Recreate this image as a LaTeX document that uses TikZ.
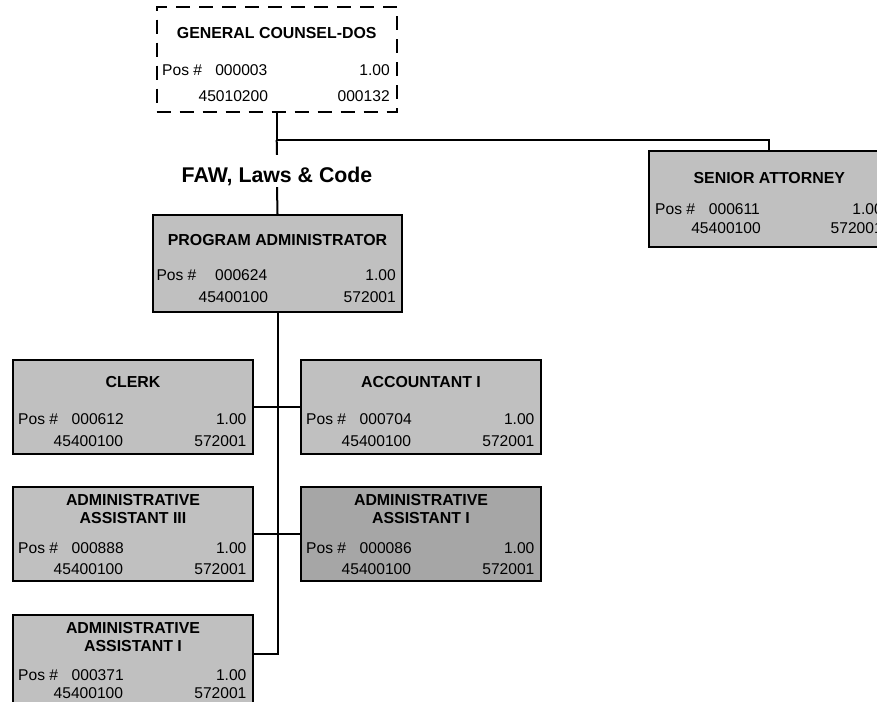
\documentclass[tikz,border=0pt]{standalone}
\usepackage{fontspec}
\setmainfont{Liberation Sans}
\usetikzlibrary{calc}
\definecolor{boxgray}{HTML}{C0C0C0}
\definecolor{boxdark}{HTML}{A6A6A6}
\tikzset{
  orgbox/.style={draw=black, line width=2pt, fill=boxgray, rectangle, inner sep=0pt,
    minimum width=240pt, minimum height=94pt},
  ttl/.style={inner sep=0pt, font=\fontsize{15.9}{18}\selectfont\bfseries},
  txt/.style={inner sep=0pt, font=\fontsize{15.6}{18}\selectfont},
  conn/.style={draw=black, line width=2pt},
}
% #1 box, #2 baseline offset, #3 pos number, #4 fte, #5 dx "Pos #", #6 dx number, #7 dx right
\newcommand\posrow[7]{%
  \node[txt,anchor=base west] at ($(#1.north west)+(#5,#2)$) {Pos \#};
  \node[txt,anchor=base west] at ($(#1.north west)+(#6,#2)$) {#3};
  \node[txt,anchor=base east] at ($(#1.north east)+(#7,#2)$) {#4};}
% #1 box, #2 baseline offset, #3 code, #4 code2, #5 dx code, #6 dx right
\newcommand\coderow[6]{%
  \node[txt,anchor=base west] at ($(#1.north west)+(#5,#2)$) {#3};
  \node[txt,anchor=base east] at ($(#1.north east)+(#6,#2)$) {#4};}
\newcommand\ttlrow[3]{%
  \node[ttl,anchor=base] at ($(#1.north)+(0,#2)$) {#3};}
\begin{document}
\begin{tikzpicture}[x=1pt,y=-1pt]
\useasboundingbox (0,0) rectangle (877,701);
\clip (0,0) rectangle (877,701);
\fill[white] (0,0) rectangle (877,701);

% General counsel (dashed)
\node[orgbox, fill=white, dash pattern=on 14pt off 9pt, minimum height=105pt] (gc) at (276.7,59.2) {};
\ttlrow{gc}{32.6}{GENERAL COUNSEL-DOS}
\posrow{gc}{70}{000003}{1.00}{6.3}{59.4}{-7.8}
\coderow{gc}{95.6}{45010200}{000132}{42.7}{-7.8}

% Senior attorney
\node[orgbox, minimum height=96pt] (sa) at (769.3,198.7) {};
\ttlrow{sa}{33.5}{SENIOR ATTORNEY}
\posrow{sa}{65}{000611}{1.00}{6.7}{60.4}{-7.4}
\coderow{sa}{83.5}{45400100}{572001}{42.8}{-7.4}

% Program administrator
\node[orgbox, minimum width=249pt, minimum height=97pt] (pa) at (277.5,263.5) {};
\ttlrow{pa}{31.5}{PROGRAM ADMINISTRATOR}
\posrow{pa}{66}{000624}{1.00}{4.3}{63}{-7}
\coderow{pa}{88.7}{45400100}{572001}{46.4}{-7}

% Row 1
\node[orgbox] (clerk) at (133,407) {};
\ttlrow{clerk}{28.5}{CLERK}
\posrow{clerk}{65}{000612}{1.00}{6}{59.5}{-7.4}
\coderow{clerk}{87}{45400100}{572001}{41.5}{-7.4}

\node[orgbox] (acct) at (421,407) {};
\ttlrow{acct}{28.5}{ACCOUNTANT I}
\posrow{acct}{65}{000704}{1.00}{6}{59.5}{-7.4}
\coderow{acct}{87}{45400100}{572001}{41.5}{-7.4}

% Row 2
\node[orgbox] (aa3) at (133,534) {};
\ttlrow{aa3}{19.6}{ADMINISTRATIVE}
\ttlrow{aa3}{37.6}{ASSISTANT III}
\posrow{aa3}{67}{000888}{1.00}{6}{59.5}{-7.4}
\coderow{aa3}{88.6}{45400100}{572001}{41.5}{-7.4}

\node[orgbox, fill=boxdark] (aa1d) at (421,534) {};
\ttlrow{aa1d}{19.6}{ADMINISTRATIVE}
\ttlrow{aa1d}{37.6}{ASSISTANT I}
\posrow{aa1d}{67}{000086}{1.00}{6}{59.5}{-7.4}
\coderow{aa1d}{88.6}{45400100}{572001}{41.5}{-7.4}

% Row 3
\node[orgbox] (aa1) at (133,662) {};
\ttlrow{aa1}{19.6}{ADMINISTRATIVE}
\ttlrow{aa1}{37.6}{ASSISTANT I}
\posrow{aa1}{66.5}{000371}{1.00}{6}{59.5}{-7.4}
\coderow{aa1}{84.5}{45400100}{572001}{41.5}{-7.4}

% Unit label
\node[inner sep=0pt, text height=27.6pt, text depth=4.4pt, anchor=base,
      font=\fontsize{21.3}{24}\selectfont\bfseries] (faw) at (277,182.6) {FAW, Laws \& Code};

% Connectors
\coordinate (j) at ($(gc.south)+(0,27.3)$);
\draw[conn] (gc.south) -- (j) -| (sa.north);
\draw[conn] (j) -- (faw.north);
\draw[conn] (faw.south) -- (pa.north);
\coordinate (aa1in) at ($(aa1.east)+(0,-8)$);
\coordinate (vend) at (pa.south |- aa1in);
\draw[conn] (pa.south) -- (vend) -- (aa1in);
\draw[conn] (clerk.east) -- (acct.west);
\draw[conn] (aa3.east) -- (aa1d.west);
\end{tikzpicture}
\end{document}
